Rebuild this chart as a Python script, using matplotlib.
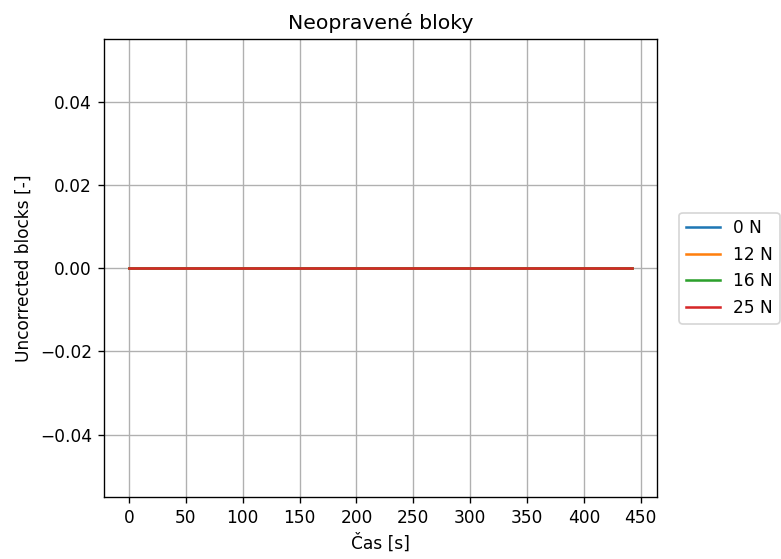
import matplotlib
matplotlib.use('Agg')
import matplotlib.pyplot as plt

# time samples [s] and uncorrected block counts for each load
time_s = [0, 50, 100, 150, 200, 250, 300, 350, 400, 442]
blocks_0N = [0, 0, 0, 0, 0, 0, 0, 0, 0, 0]
blocks_12N = [0, 0, 0, 0, 0, 0, 0, 0, 0, 0]
blocks_16N = [0, 0, 0, 0, 0, 0, 0, 0, 0, 0]
blocks_25N = [0, 0, 0, 0, 0, 0, 0, 0, 0, 0]

labels = ['0 N', '12 N', '16 N', '25 N']

dpi = 122
fig = plt.figure(figsize=(781 / dpi, 559 / dpi), dpi=dpi)
ax = fig.add_axes([0.133, 0.111, 0.708, 0.819])

for y, lab in zip([blocks_0N, blocks_12N, blocks_16N, blocks_25N], labels):
    ax.plot(time_s, y, label=lab)

ax.set_title('Neopravené bloky')
ax.set_xlabel('Čas [s]')
ax.set_ylabel('Uncorrected blocks [-]')
ax.set_xticks(range(0, 451, 50))
ax.grid(True)
ax.legend(loc='center left', bbox_to_anchor=(1.025, 0.5))

fig.savefig('out.png', dpi=dpi)
